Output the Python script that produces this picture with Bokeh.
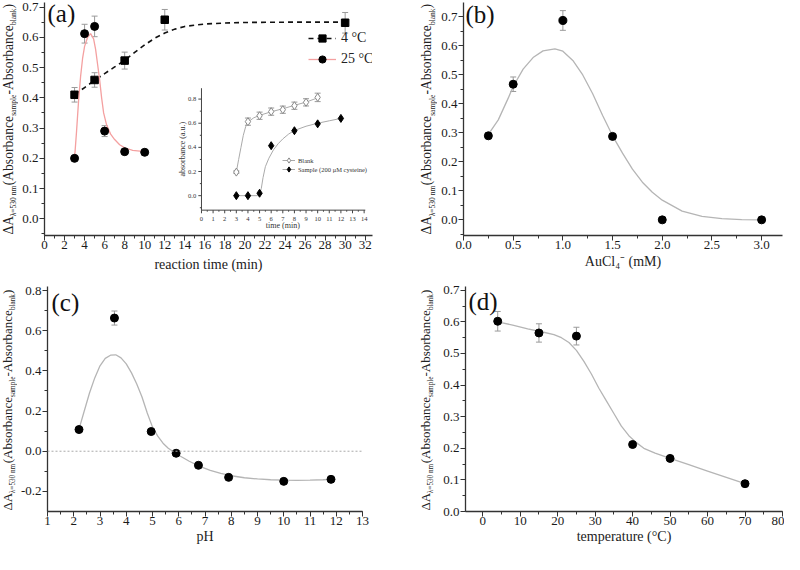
import numpy as np
from bokeh.plotting import figure
from bokeh.models import (Range1d, SingleIntervalTicker, Label, Legend, LegendItem,
                          Whisker, TeeHead, ColumnDataSource, Span, PrintfTickFormatter)
from bokeh.layouts import column, row
from bokeh.core.properties import value
from bokeh.embed import file_html
from bokeh.resources import INLINE

SERIF = "Liberation Serif"
AX = "#333333"
FITGRAY = "#b5b5b5"
ERRGRAY = "#9a9a9a"

# ---------------- data ----------------
# (a) reaction time
a_t4 = [3, 5, 8, 12, 30]
a_v4 = [0.41, 0.459, 0.523, 0.658, 0.648]
a_e4 = [0.024, 0.024, 0.028, 0.034, 0.034]
a_fit4_x = [3, 4, 5, 6, 7, 8, 9, 10, 11, 12, 13, 14, 16, 18, 20, 24, 30]
a_fit4_y = [0.41, 0.434, 0.458, 0.48, 0.502, 0.524, 0.55, 0.575, 0.597, 0.614, 0.627, 0.636, 0.644, 0.647, 0.649, 0.65, 0.65]
a_t25 = [3, 4, 5, 6, 8, 10]
a_v25 = [0.2, 0.612, 0.636, 0.29, 0.222, 0.22]
a_e25 = [0.004, 0.031, 0.034, 0.018, 0.006, 0.006]
a_fit25_x = [3, 3.2, 3.4, 3.6, 3.8, 4.0, 4.3, 4.6, 4.9, 5.1, 5.3, 5.5, 5.7, 5.9, 6.2, 6.6, 7.0, 7.5, 8.0, 8.8, 10]
a_fit25_y = [0.2, 0.29, 0.39, 0.47, 0.53, 0.57, 0.6, 0.612, 0.595, 0.56, 0.51, 0.46, 0.4, 0.35, 0.31, 0.28, 0.262, 0.245, 0.235, 0.226, 0.222]

# inset
in_t_blank = [3, 4, 5, 6, 7, 8, 9, 10]
in_blank = [0.195, 0.613, 0.662, 0.696, 0.712, 0.745, 0.773, 0.814]
in_blank_err = [0.01, 0.03, 0.03, 0.03, 0.03, 0.03, 0.03, 0.035]
in_fit_blank_x = [3, 3.2, 3.4, 3.6, 3.8, 4.0, 4.5, 5, 6, 7, 8, 9, 10]
in_fit_blank_y = [0.195, 0.3, 0.4, 0.5, 0.57, 0.61, 0.645, 0.665, 0.695, 0.72, 0.748, 0.775, 0.81]
in_t_sample = [3, 4, 5, 6, 8, 10, 12]
in_sample = [0.0, 0.0, 0.02, 0.414, 0.538, 0.595, 0.64]
in_fit_sample_x = [3, 4, 4.8, 5.0, 5.15, 5.3, 5.5, 5.8, 6.2, 6.6, 7.0, 7.5, 8, 9, 10, 11, 12]
in_fit_sample_y = [0.0, 0.0, 0.0, 0.01, 0.06, 0.15, 0.24, 0.31, 0.38, 0.43, 0.47, 0.51, 0.54, 0.575, 0.6, 0.62, 0.64]
in_xticks = list(range(0, 15))
in_xminor = [i + 0.5 for i in range(0, 14)]
in_yticks = [0.0, 0.2, 0.4, 0.6, 0.8]
in_yminor = [-0.1, 0.1, 0.3, 0.5, 0.7]
in_xlim = (0, 14.1)
in_ylim = (-0.12, 0.89)

# (b) AuCl4-
b_x = [0.25, 0.5, 1.0, 1.5, 2.0, 3.0]
b_y = [0.29, 0.468, 0.688, 0.288, 0.0, 0.0]
b_e = [0.01, 0.025, 0.034, 0.01, 0.0, 0.0]
b_fit_x = [0.25, 0.35, 0.45, 0.5, 0.6, 0.7, 0.8, 0.92, 1.0, 1.1, 1.2, 1.3, 1.4, 1.5, 1.6, 1.7, 1.8, 1.9, 2.0, 2.2, 2.4, 2.6, 2.8, 3.0]
b_fit_y = [0.295, 0.345, 0.42, 0.46, 0.52, 0.56, 0.583, 0.59, 0.582, 0.55, 0.5, 0.435, 0.36, 0.29, 0.23, 0.175, 0.13, 0.095, 0.068, 0.03, 0.012, 0.004, 0.001, 0.0]

# (c) pH
c_x = [2.2, 3.55, 4.95, 5.9, 6.75, 7.9, 10.0, 11.8]
c_y = [0.108, 0.663, 0.098, -0.01, -0.07, -0.13, -0.15, -0.14]
c_e = [0.005, 0.035, 0.005, 0.004, 0.004, 0.004, 0.004, 0.004]
c_fit_x = [2.2, 2.4, 2.6, 2.8, 3.0, 3.2, 3.4, 3.6, 3.8, 4.0, 4.2, 4.4, 4.6, 4.8, 5.0, 5.2, 5.4, 5.6, 5.8, 6.0, 6.4, 6.8, 7.2, 7.6, 8.0, 8.5, 9.0, 9.5, 10.0, 10.5, 11.0, 11.5, 11.8]
c_fit_y = [0.11, 0.2, 0.29, 0.365, 0.425, 0.462, 0.478, 0.48, 0.465, 0.435, 0.39, 0.335, 0.27, 0.19, 0.12, 0.075, 0.04, 0.015, -0.003, -0.02, -0.05, -0.075, -0.095, -0.11, -0.122, -0.132, -0.138, -0.142, -0.144, -0.145, -0.144, -0.142, -0.14]

# (d) temperature
d_x = [4, 15, 25, 40, 50, 70]
d_y = [0.602, 0.565, 0.555, 0.212, 0.168, 0.088]
d_e = [0.031, 0.029, 0.028, 0.004, 0.004, 0.004]
d_fit_x = [4, 8, 12, 16, 19, 21, 23, 25, 27, 29, 31, 33, 35, 37, 39, 41, 43, 46, 50, 55, 60, 65, 70]
d_fit_y = [0.6, 0.59, 0.578, 0.568, 0.56, 0.55, 0.535, 0.51, 0.475, 0.435, 0.39, 0.35, 0.31, 0.27, 0.24, 0.218, 0.2, 0.185, 0.168, 0.148, 0.128, 0.108, 0.088]

YLABEL = [("ΔA", False), ("λ=530 nm", True), ("(Absorbance", False), ("sample", True),
          ("-Absorbance", False), ("blank", True), (")", False)]

# ---------------- helpers ----------------
EM = {"Δ": 0.612, "A": 0.722, "λ": 0.55, "=": 0.564, " ": 0.25, "n": 0.5, "m": 0.778, "(": 0.333,
      ")": 0.333, "b": 0.5, "s": 0.389, "o": 0.5, "r": 0.333, "a": 0.444, "c": 0.444, "e": 0.444,
      "p": 0.5, "l": 0.278, "k": 0.5, "-": 0.333}


def text_w(s, size):
    return sum(EM.get(ch, 0.5) for ch in s) * size


def make_fig(w, h, xr, yr, bl, br, bt, bb, xint, yint, xfmt, yfmt, xlabel, xl_standoff=1):
    p = figure(width=w, height=h, x_range=Range1d(*xr), y_range=Range1d(*yr),
               output_backend="svg", toolbar_location=None,
               min_border_left=bl, min_border_right=br, min_border_top=bt, min_border_bottom=bb)
    p.outline_line_color = None
    p.grid.visible = False
    p.xaxis.ticker = SingleIntervalTicker(interval=xint, num_minor_ticks=2)
    p.yaxis.ticker = SingleIntervalTicker(interval=yint, num_minor_ticks=2)
    p.xaxis.formatter = PrintfTickFormatter(format=xfmt)
    p.yaxis.formatter = PrintfTickFormatter(format=yfmt)
    for ax in (p.xaxis[0], p.yaxis[0]):
        ax.axis_line_color = AX
        ax.axis_line_width = 1.3
        ax.major_tick_line_color = AX
        ax.minor_tick_line_color = AX
        ax.major_tick_out = 5
        ax.major_tick_in = 0
        ax.minor_tick_out = 3
        ax.minor_tick_in = 0
        ax.major_label_text_font = SERIF
        ax.major_label_text_font_size = "13px"
        ax.major_label_text_font_style = "normal"
        ax.major_label_text_color = "#1a1a1a"
    p.yaxis.major_label_standoff = 1
    p.xaxis.major_label_standoff = 0
    p.xaxis.axis_label = xlabel
    p.xaxis.axis_label_text_font = SERIF
    p.xaxis.axis_label_text_font_size = "14px"
    p.xaxis.axis_label_text_font_style = "normal"
    p.xaxis.axis_label_text_color = "#222222"
    p.xaxis.axis_label_standoff = xl_standoff
    return p


def label_fig(w, h, page_left, frame_top, frame_bottom, xc, ybot, F, f, dx=6):
    """Narrow figure that hosts the rotated y-axis title with subscripts.
    Its frame is aligned with the neighbouring plot frame, so the y range is
    expressed in page pixels (inverted: larger values lower on the page)."""
    p = figure(width=w, height=h, x_range=Range1d(page_left, page_left + w),
               y_range=Range1d(frame_bottom, frame_top),
               output_backend="svg", toolbar_location=None, min_border=0,
               min_border_left=0, min_border_right=0, min_border_top=0, min_border_bottom=0,
               x_axis_location=None, y_axis_location=None)
    p.outline_line_color = None
    p.grid.visible = False
    y = ybot
    for txt, sub in YLABEL:
        size = f if sub else F
        xx = xc + dx if sub else xc
        p.add_layout(Label(x=xx, y=y, text=txt,
                           angle=np.pi / 2, text_align="left", text_baseline="middle",
                           text_font=SERIF, text_font_size=f"{size}px", text_color="#222222"))
        y -= text_w(txt, size)
    return p


def add_tag(p, txt, sx, sy):
    p.add_layout(Label(x=sx, y=sy, x_units="screen", y_units="screen", text=txt,
                       text_align="left", text_baseline="middle", text_font=SERIF,
                       text_font_size="25px", text_color="#111111"))


def add_err(p, xs, ys, es, **kw):
    src = ColumnDataSource(dict(base=xs, lower=[y - e for y, e in zip(ys, es)],
                                upper=[y + e for y, e in zip(ys, es)]))
    w = Whisker(base="base", lower="lower", upper="upper", source=src, line_color=ERRGRAY,
                line_width=1, level="underlay",
                upper_head=TeeHead(size=6, line_color=ERRGRAY, line_width=1),
                lower_head=TeeHead(size=6, line_color=ERRGRAY, line_width=1), **kw)
    p.add_layout(w)


H1, H2 = 282, 272
# frame edges in page pixels
F1_TOP, F1_BOT = 10, 243
F2_TOP, F2_BOT = 294, 519
BB1 = 8 + H1 - F1_BOT
BB2 = 8 + H1 + H2 - F2_BOT

# ---------------- panel (a) ----------------
la = label_fig(18, H1, 8, F1_TOP, F1_BOT, 15.5, 242, 13.6, 7.5, dx=5.5)
pa = make_fig(374, H1, (0, 32.73), (-0.055, 0.715), 26, 20, 2, BB1, 2, 0.1, "%d", "%.1f",
              "reaction time (min)", 5)
add_err(pa, a_t4, a_v4, a_e4)
add_err(pa, a_t25, a_v25, a_e25)
l4 = pa.line(a_fit4_x, a_fit4_y, line_color="#111111", line_width=1.6, line_dash="5 4")
s4 = pa.scatter(a_t4, a_v4, marker="square", size=7.5, fill_color="black", line_color="black")
l25 = pa.line(a_fit25_x, a_fit25_y, line_color="#f4a0a0", line_width=1.3)
s25 = pa.scatter(a_t25, a_v25, marker="circle", size=8, fill_color="black", line_color="black")
leg = Legend(items=[LegendItem(label="4 °C", renderers=[l4, s4]),
                    LegendItem(label="25 °C", renderers=[l25, s25])],
             location=(264, 167), glyph_width=28, glyph_height=18, label_height=18, spacing=3,
             label_standoff=5, padding=0, margin=0, border_line_color=None,
             background_fill_alpha=0, label_text_font=SERIF, label_text_font_size="14px",
             label_text_color="#222222")
pa.add_layout(leg)

# inset in panel (a)  (extra ranges chosen so the inset sits in the lower-right of the frame)
pa.extra_x_ranges = {"ix": Range1d(-13.51, 14.72)}
pa.extra_y_ranges = {"iy": Range1d(-0.33, 1.60)}
IR = dict(x_range_name="ix", y_range_name="iy")
IC = "#444444"
pa.segment(x0=[in_xlim[0], in_xlim[0]], y0=[in_ylim[0], in_ylim[0]],
           x1=[in_xlim[0], in_xlim[1]], y1=[in_ylim[1], in_ylim[0]], line_color=IC, line_width=1, **IR)
pa.segment(x0=in_xticks, y0=[in_ylim[0]] * len(in_xticks), x1=in_xticks,
           y1=[in_ylim[0] - 0.026] * len(in_xticks), line_color=IC, line_width=1, **IR)
pa.segment(x0=in_xminor, y0=[in_ylim[0]] * len(in_xminor), x1=in_xminor,
           y1=[in_ylim[0] - 0.013] * len(in_xminor), line_color=IC, line_width=1, **IR)
pa.segment(x0=[0] * len(in_yticks), y0=in_yticks, x1=[-0.27] * len(in_yticks), y1=in_yticks,
           line_color=IC, line_width=1, **IR)
pa.segment(x0=[0] * len(in_yminor), y0=in_yminor, x1=[-0.14] * len(in_yminor), y1=in_yminor,
           line_color=IC, line_width=1, **IR)
pa.text(x=in_xticks, y=[in_ylim[0] - 0.07] * len(in_xticks), text=[str(v) for v in in_xticks],
        text_font=value(SERIF), text_font_size="6.5px", text_align="center",
        text_baseline="middle", text_color="#333333", **IR)
pa.text(x=[-0.45] * len(in_yticks), y=in_yticks, text=["%.1f" % v for v in in_yticks],
        text_font=value(SERIF), text_font_size="6.5px", text_align="right",
        text_baseline="middle", text_color="#333333", **IR)
pa.text(x=[7.0], y=[-0.25], text=["time (min)"], text_font=value(SERIF), text_font_size="8px",
        text_align="center", text_baseline="middle", text_color="#333333", **IR)
pa.text(x=[-1.64], y=[0.385], text=["absorbance (a.u.)"], angle=np.pi / 2, text_font=value(SERIF),
        text_font_size="8px", text_align="center", text_baseline="middle", text_color="#333333", **IR)
add_err(pa, in_t_blank, in_blank, in_blank_err, **IR)
lb = pa.line(in_fit_blank_x, in_fit_blank_y, line_color="#aaaaaa", line_width=1, **IR)
sb = pa.scatter(in_t_blank, in_blank, marker="diamond", size=8, fill_color="white",
                line_color="#888888", line_width=1, **IR)
ls = pa.line(in_fit_sample_x, in_fit_sample_y, line_color="#aaaaaa", line_width=1, **IR)
ss = pa.scatter(in_t_sample, in_sample, marker="diamond", size=8, fill_color="black",
                line_color="black", **IR)
for item, loc in ((LegendItem(label="Blank", renderers=[lb, sb]), (238, 68)),
                  (LegendItem(label="Sample (200 μM cysteine)", renderers=[ls, ss]), (238, 59))):
    pa.add_layout(Legend(items=[item], location=loc, glyph_width=13, glyph_height=14,
                         label_height=14, label_standoff=3, padding=0, margin=0,
                         border_line_color=None, background_fill_alpha=0,
                         label_text_font=SERIF, label_text_font_size="6.5px",
                         label_text_color="#333333"))
add_tag(pa, "(a)", 3, 222)

# ---------------- panel (b) ----------------
lbf = label_fig(45, H1, 400, F1_TOP, F1_BOT, 434, 242, 13.6, 7.5, dx=5.5)
pb = make_fig(347, H1, (0, 3.21), (-0.054, 0.75), 26, 2, 2, BB1, 0.5, 0.1, "%.1f", "%.1f",
              "AuCl₄⁻ (mM)", 2)
add_err(pb, b_x, b_y, b_e)
pb.line(b_fit_x, b_fit_y, line_color=FITGRAY, line_width=1.3)
pb.scatter(b_x, b_y, marker="circle", size=8, fill_color="black", line_color="black")
add_tag(pb, "(b)", 2, 221)

# ---------------- panel (c) ----------------
lc = label_fig(17, H2, 8, F2_TOP, F2_BOT, 15, 518, 13, 7.2, dx=5)
pc = make_fig(375, H2, (1, 13), (-0.3, 0.82), 24, 30, 4, BB2, 1, 0.2, "%d", "%.1f", "pH")
pc.add_layout(Span(location=0, dimension="width", line_color="#aaaaaa", line_width=1,
                   line_dash="2 2"))
add_err(pc, c_x, c_y, c_e)
pc.line(c_fit_x, c_fit_y, line_color=FITGRAY, line_width=1.3)
pc.scatter(c_x, c_y, marker="circle", size=8, fill_color="black", line_color="black")
add_tag(pc, "(c)", 4, 209)

# ---------------- panel (d) ----------------
ld = label_fig(45, H2, 400, F2_TOP, F2_BOT, 433, 518, 13, 7.2, dx=5.5)
pd_ = make_fig(347, H2, (-4.6, 80), (0, 0.712), 28, 2, 4, BB2, 10, 0.1, "%d", "%.1f",
               "temperature (°C)")
add_err(pd_, d_x, d_y, d_e)
pd_.line(d_fit_x, d_fit_y, line_color=FITGRAY, line_width=1.3)
pd_.scatter(d_x, d_y, marker="circle", size=8, fill_color="black", line_color="black")
add_tag(pd_, "(d)", 3, 210)

layout = column(row(la, pa, lbf, pb), row(lc, pc, ld, pd_))
open("out.html", "w").write(file_html(layout, INLINE))
